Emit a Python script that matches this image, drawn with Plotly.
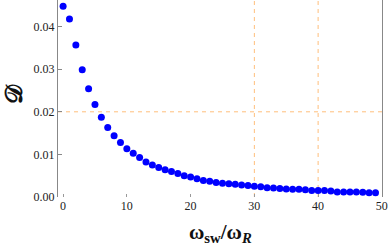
import plotly.graph_objects as go

ratio = list(range(0, 50))
D_vals = [0.0448, 0.0418, 0.0357, 0.0299, 0.0254, 0.0217, 0.0187, 0.0163, 0.0144, 0.0128,
          0.0113, 0.0103, 0.0093, 0.0082, 0.0075, 0.0069, 0.0064, 0.0060, 0.0055, 0.0050,
          0.0047, 0.0043, 0.0039, 0.0037, 0.0034, 0.0032, 0.0031, 0.0030, 0.0028, 0.0027,
          0.0025, 0.0024, 0.0022, 0.0021, 0.0020, 0.0019, 0.0018, 0.0018, 0.0017, 0.0015,
          0.0015, 0.0015, 0.0014, 0.0012, 0.0012, 0.0012, 0.0012, 0.0011, 0.0010, 0.0010]
ref_x = [30, 40]
ref_y = [0.02]
x_ticks = [0, 10, 20, 30, 40, 50]
y_ticks = [0.00, 0.01, 0.02, 0.03, 0.04]
y_tick_text = ["0.00", "0.01", "0.02", "0.03", "0.04"]

fig = go.Figure()
fig.add_trace(go.Scatter(x=ratio, y=D_vals, mode="markers",
                         marker=dict(color="#0000FF", size=7, line=dict(width=0)),
                         showlegend=False))

ref_color = "rgba(255,170,80,0.75)"
for xv in ref_x:
    fig.add_vline(x=xv, line=dict(color=ref_color, width=1, dash="4px,4px"), layer="below")
for yv in ref_y:
    fig.add_hline(y=yv, line=dict(color=ref_color, width=1, dash="4px,4px"), layer="below")

tick_font = dict(family="Liberation Serif", size=12, color="#222222")
annotations = [
    dict(text="<b>ω<sub>sw</sub>/ω<sub><i>R</i></sub></b>", xref="paper", yref="paper",
         x=0.5, y=-0.185, yanchor="middle", xanchor="center", showarrow=False,
         font=dict(family="Liberation Serif", size=21, color="#111111")),
    dict(text="<b>𝒟</b>", xref="paper", yref="paper", x=-0.137, y=0.52, textangle=-90,
         xanchor="center", yanchor="middle", showarrow=False,
         font=dict(family="DejaVu Serif", size=24, color="#111111")),
]

fig.update_layout(
    width=388, height=251,
    margin=dict(l=58, r=6, t=0, b=54),
    plot_bgcolor="white", paper_bgcolor="white",
    xaxis=dict(range=[-0.8, 50.02], tickvals=x_ticks, showgrid=False, zeroline=False,
               showline=False, ticks="inside", ticklen=3, tickcolor="#999999",
               tickfont=tick_font, ticklabelstandoff=0, ticklabeloverflow="allow"),
    yaxis=dict(range=[0, 0.04625], tickvals=y_ticks, ticktext=y_tick_text, showgrid=False,
               zeroline=False, showline=True, linecolor="#888888", linewidth=1,
               mirror=True, ticks="inside", ticklen=4, tickcolor="#888888",
               tickfont=tick_font),
    annotations=annotations,
)
fig.write_html("out.html", config={"displayModeBar": False},
               post_script="document.body.style.margin='0';")
